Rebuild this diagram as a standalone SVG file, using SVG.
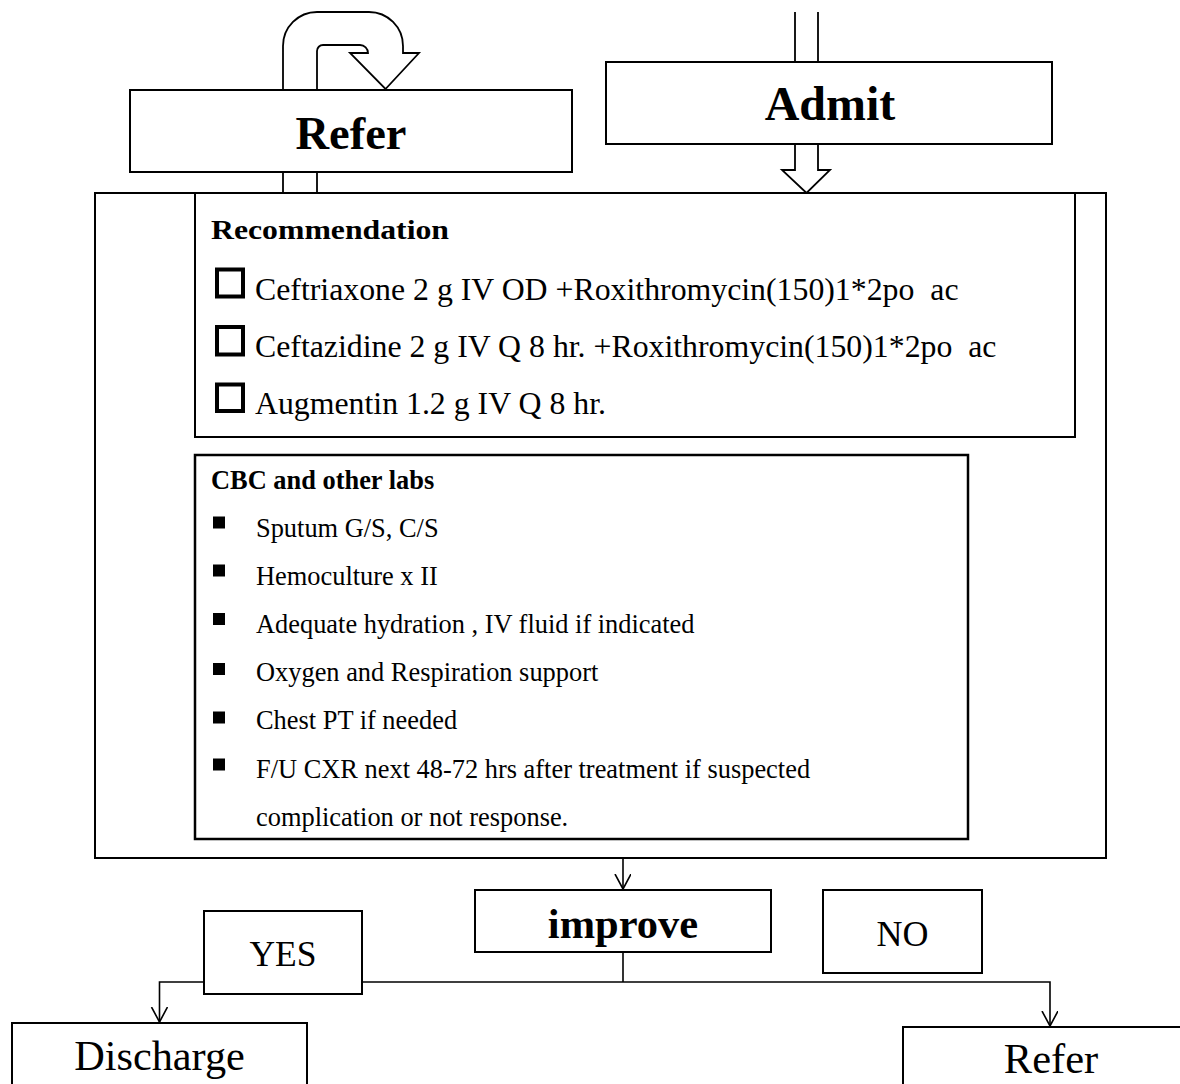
<svg xmlns="http://www.w3.org/2000/svg" width="1180" height="1084" viewBox="0 0 1180 1084">
  <style>
    .box { fill: #ffffff; stroke: #000000; stroke-width: 2; }
    .thick { fill: #ffffff; stroke: #000000; stroke-width: 2.5; }
    .line { fill: none; stroke: #000000; stroke-width: 1.6; }
    .block { fill: #ffffff; stroke: #000000; stroke-width: 1.8; stroke-linejoin: miter; }
    .serif { font-family: "Liberation Serif", "Times New Roman", serif; fill: #000000; }
    .b { font-weight: bold; }
    .mid { text-anchor: middle; }
    .check { fill: none; stroke: #000000; stroke-width: 4; }
  </style>
  <defs>
    <marker id="vee" markerUnits="userSpaceOnUse" markerWidth="20" markerHeight="20" refX="15" refY="8" orient="auto">
      <path d="M0,0 L15,8 L0,16" fill="none" stroke="#000000" stroke-width="1.6"/>
    </marker>
  </defs>

  <rect width="1180" height="1084" fill="#ffffff"/>

  <!-- connectors -->
  <g id="connectors">
    <!-- U-turn block arrow above Refer -->
    <path class="block" d="M283,90 V46 A34,34 0 0 1 317,12 H369 A34,34 0 0 1 403,46 V53 H419 L385.5,89 L350,53 H368 A8,8 0 0 0 360,45 H323 A6,6 0 0 0 317,51 V90 Z"/>
    <!-- double shaft Refer -> main panel -->
    <line class="block" x1="283" y1="172" x2="283" y2="193"/>
    <line class="block" x1="317" y1="172" x2="317" y2="193"/>
    <!-- double shaft into Admit -->
    <line class="block" x1="795" y1="12" x2="795" y2="62"/>
    <line class="block" x1="818" y1="12" x2="818" y2="62"/>
    <!-- block arrow Admit -> main panel -->
    <path class="block" d="M795,144 V170 H782 L806.5,193 L830,170 H818 V144"/>
    <!-- main panel -> improve -->
    <path class="line" d="M623,858 V889" marker-end="url(#vee)"/>
    <!-- improve split -->
    <path class="line" d="M623,952 V982"/>
    <path class="line" d="M623,982 H159.5 V1022" marker-end="url(#vee)"/>
    <path class="line" d="M623,982 H1050 V1026" marker-end="url(#vee)"/>
  </g>

  <g id="refer-top">
    <rect class="box" x="130" y="90" width="442" height="82"/>
    <text class="serif b mid" x="351" y="149" font-size="46" textLength="111" lengthAdjust="spacingAndGlyphs">Refer</text>
  </g>

  <g id="admit">
    <rect class="box" x="606" y="62" width="446" height="82"/>
    <text class="serif b mid" x="830" y="120" font-size="48">Admit</text>
  </g>

  <g id="care-panel">
    <rect class="box" x="95" y="193" width="1011" height="665"/>
  </g>

  <g id="recommendation">
    <rect class="box" x="195" y="193" width="880" height="244"/>
    <text class="serif b" x="211" y="239" font-size="28" textLength="238" lengthAdjust="spacingAndGlyphs">Recommendation</text>
    <rect class="check" x="217" y="269.5" width="26" height="27"/>
    <text class="serif" x="255" y="300" font-size="31.8">Ceftriaxone 2 g IV OD +Roxithromycin(150)1*2po&#160; ac</text>
    <rect class="check" x="217" y="327" width="26" height="27.5"/>
    <text class="serif" x="255" y="357" font-size="31.8">Ceftazidine 2 g IV Q 8 hr. +Roxithromycin(150)1*2po&#160; ac</text>
    <rect class="check" x="217" y="384.5" width="26" height="26.5"/>
    <text class="serif" x="255" y="414" font-size="31.8">Augmentin 1.2 g IV Q 8 hr.</text>
  </g>

  <g id="labs">
    <rect class="thick" x="195" y="455" width="773" height="384"/>
    <text class="serif b" x="211" y="489" font-size="26.4">CBC and other labs</text>
    <g fill="#000000">
      <rect x="213" y="516.5" width="12" height="12"/>
      <rect x="213" y="564.5" width="12" height="12"/>
      <rect x="213" y="613" width="12" height="12"/>
      <rect x="213" y="663" width="12" height="12"/>
      <rect x="213" y="711.5" width="12" height="12"/>
      <rect x="213" y="758.5" width="12" height="12"/>
    </g>
    <g class="serif" font-size="26.4">
      <text x="256" y="537">Sputum G/S, C/S</text>
      <text x="256" y="585">Hemoculture x II</text>
      <text x="256" y="633">Adequate hydration , IV fluid if indicated</text>
      <text x="256" y="681">Oxygen and Respiration support</text>
      <text x="256" y="729">Chest PT if needed</text>
      <text x="256" y="778">F/U CXR next 48-72 hrs after treatment if suspected</text>
      <text x="256" y="826">complication or not response.</text>
    </g>
  </g>

  <g id="improve">
    <rect class="box" x="475" y="890" width="296" height="62"/>
    <text class="serif b mid" x="623" y="938" font-size="42.5">improve</text>
  </g>

  <g id="yes">
    <rect class="box" x="204" y="911" width="158" height="83"/>
    <text class="serif mid" x="283" y="966" font-size="35.5">YES</text>
  </g>

  <g id="no">
    <rect class="box" x="823" y="890" width="159" height="83"/>
    <text class="serif mid" x="902.5" y="946" font-size="36">NO</text>
  </g>

  <g id="discharge">
    <rect class="box" x="12" y="1023" width="295" height="80"/>
    <text class="serif mid" x="159.5" y="1070" font-size="42.3">Discharge</text>
  </g>

  <g id="refer-bottom">
    <rect class="box" x="903" y="1027" width="300" height="80"/>
    <text class="serif mid" x="1051" y="1073" font-size="42.5">Refer</text>
  </g>
</svg>
